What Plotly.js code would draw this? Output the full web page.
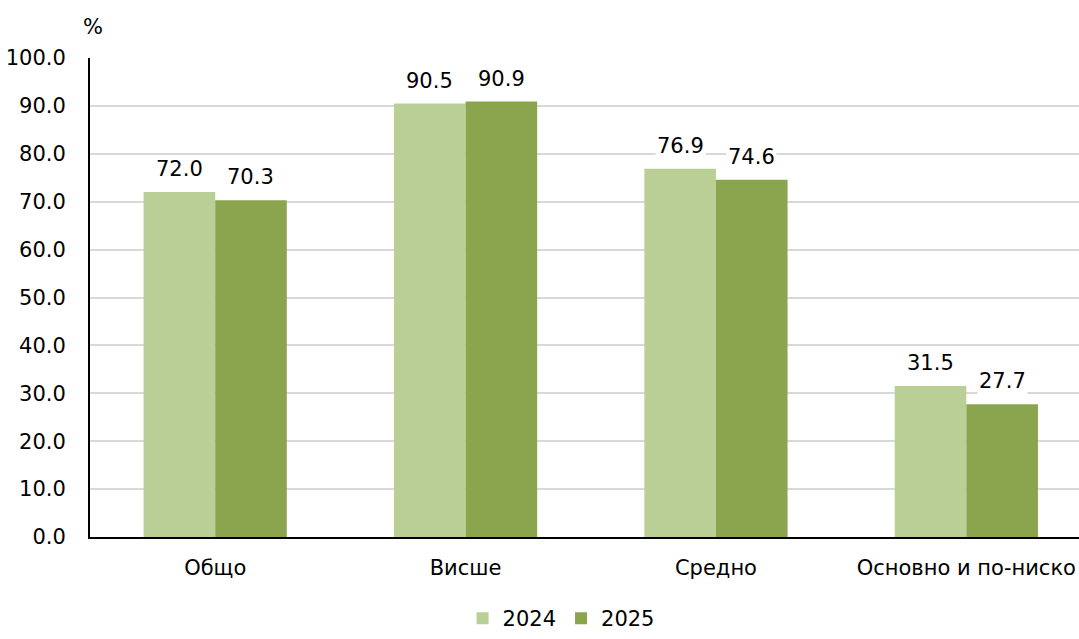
<!DOCTYPE html>
<html>
<head>
<meta charset="utf-8">
<script src="https://cdn.plot.ly/plotly-3.0.1.min.js"></script>
<style>html,body{margin:0;padding:0;background:#fff;}#chart{width:1079px;height:639px;}</style>
</head>
<body>
<div id="chart"></div>
<script>
const categories = ["Общо", "Висше", "Средно", "Основно и по-ниско"];
const values2024 = [72.0, 90.5, 76.9, 31.5];
const values2025 = [70.3, 90.9, 74.6, 27.7];
const seriesNames = ["2024", "2025"];
const yTicks = [0, 10, 20, 30, 40, 50, 60, 70, 80, 90, 100];
const yTickLabels = yTicks.map(v => v.toFixed(1));

const font = {family: "DejaVu Sans, Verdana, sans-serif", size: 21, color: "#000"};
const colors = ["#b9cf96", "#8aa54e"];

const traces = [values2024, values2025].map((vals, k) => ({
  type: "bar",
  name: seriesNames[k],
  x: categories,
  y: vals,
  marker: {color: colors[k]},
  hoverinfo: "none"
}));

const annotations = [];
[values2024, values2025].forEach((vals, k) => {
  vals.forEach((v, i) => {
    annotations.push({
      x: i + (k === 0 ? -0.143 : 0.143),
      y: v,
      xref: "x", yref: "y",
      text: v.toFixed(1),
      showarrow: false,
      yanchor: "bottom",
      yshift: 9,
      bgcolor: "#ffffff",
      font: font
    });
  });
});
annotations.push({
  text: "%", xref: "paper", yref: "paper",
  x: 0.0, y: (537 - 27) / 479, xanchor: "center", yanchor: "middle",
  xshift: 3,
  showarrow: false, font: font
});

const layout = {
  width: 1079, height: 639,
  margin: {l: 90, r: 0, t: 58, b: 102},
  paper_bgcolor: "#fff", plot_bgcolor: "#fff",
  font: font,
  barmode: "group",
  bargap: 0.428,
  bargroupgap: 0,
  showlegend: true,
  legend: {
    orientation: "h",
    xref: "container", yref: "container",
    x: 0.52, y: 0,
    xanchor: "center", yanchor: "bottom",
    font: font,
    itemwidth: 30,
    tracegroupgap: 0
  },
  xaxis: {
    type: "category",
    range: [-0.5, 3.45],
    showline: true, linecolor: "#000", linewidth: 2,
    showgrid: false, zeroline: false,
    ticks: "", ticklabelstandoff: 11,
    tickfont: font
  },
  yaxis: {
    range: [0, 100],
    tickvals: yTicks, ticktext: yTickLabels,
    showline: true, linecolor: "#000", linewidth: 2,
    showgrid: true, gridcolor: "#d9d9d9", gridwidth: 2,
    zeroline: false,
    ticks: "", ticklabelstandoff: 18,
    tickfont: font
  },
  annotations: annotations
};

Plotly.newPlot("chart", traces, layout, {displayModeBar: false, staticPlot: true});
</script>
</body>
</html>
